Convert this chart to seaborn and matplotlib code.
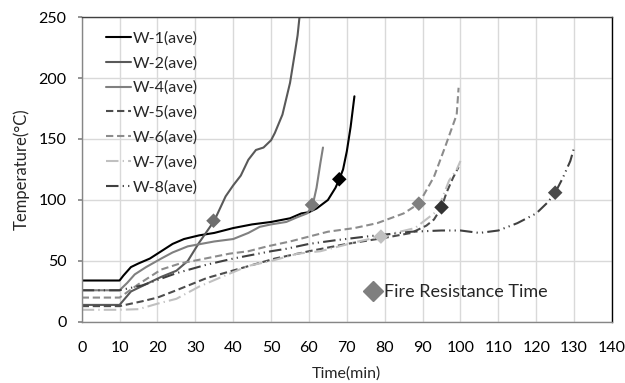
import matplotlib
matplotlib.use("Agg")
import matplotlib.pyplot as plt
from matplotlib.lines import Line2D
import seaborn as sns
import pandas as pd

# ---- data ----
t_w1 = [0, 10, 11, 13, 15, 18, 20, 22, 24, 27, 31, 35, 40, 45, 50, 55, 58, 60, 62, 65, 67, 68, 69, 70, 71, 72]
T_w1 = [34, 34, 38, 45, 48, 52, 56, 60, 64, 68, 71, 73, 77, 80, 82, 85, 89, 90, 93, 100, 110, 117, 125, 140, 160, 185]

t_w2 = [0, 10, 13, 17, 21, 25, 28, 31, 35, 38, 40, 42, 44, 46, 48, 50, 51, 53, 55, 56.3, 57, 57.5, 58]
T_w2 = [14, 14, 25, 31, 37, 42, 50, 65, 83, 103, 112, 120, 133, 141, 143, 149, 155, 170, 196, 221, 235, 250, 265]

t_w4 = [0, 10, 12, 14, 17, 21, 24, 28, 35, 40, 44, 47, 50, 54, 57, 59.5, 61, 62, 63, 63.7]
T_w4 = [26, 26, 32, 39, 45, 52, 57, 62, 66, 68, 73, 78, 80, 82, 86, 89, 96, 110, 130, 143]

t_w5 = [0, 10, 16, 20, 25, 33, 42, 51, 60, 70, 80, 87, 91, 93, 95, 96.3, 98, 99.5]
T_w5 = [13, 13, 17, 20, 26, 36, 44, 52, 58, 64, 69, 73, 79, 84, 94, 106, 118, 127]

t_w6 = [0, 10, 15, 21, 26, 31, 39, 44, 49, 55, 60, 65, 72, 78, 85, 89, 91, 93, 96, 99, 99.5]
T_w6 = [20, 20, 31, 43, 48, 51, 56, 58, 62, 66, 70, 74, 77, 81, 89, 97, 108, 119, 144, 170, 192]

t_w7 = [0, 10, 15, 20, 25, 31, 37, 44, 50, 57, 63, 73, 79, 84, 88, 93, 95, 97, 99, 100]
T_w7 = [10, 10, 10.5, 15, 19, 29, 37, 46, 50, 56, 58, 66, 70, 74, 77, 89, 100, 116, 125, 132]

t_w8 = [0, 10, 16, 25, 33, 40, 50, 54, 60, 67, 75, 87, 95, 100, 105, 110, 115, 120, 123, 125, 127, 129, 130]
T_w8 = [26, 26, 30, 40, 47, 52, 58, 60, 64, 67, 70, 74, 75, 75, 73, 75, 81, 89, 98, 106, 118, 132, 143]

series_names = ["W-1(ave)", "W-2(ave)", "W-4(ave)", "W-5(ave)", "W-6(ave)", "W-7(ave)", "W-8(ave)"]

# fire resistance time points
fr_series = ["W-2(ave)", "W-4(ave)", "W-1(ave)", "W-7(ave)", "W-6(ave)", "W-5(ave)", "W-8(ave)"]
fr_t = [34.8, 60.8, 68, 79, 89, 95, 125]
fr_T = [83, 96, 117, 70, 97, 94, 106]

x_ticks = [0, 10, 20, 30, 40, 50, 60, 70, 80, 90, 100, 110, 120, 130, 140]
y_ticks = [0, 50, 100, 150, 200, 250]

# ---- style ----
sns.set_theme(style="white")
plt.rcParams["font.family"] = ["Lato", "DejaVu Sans"]

colors = {"W-1(ave)": "#000000", "W-2(ave)": "#595959", "W-4(ave)": "#808080",
          "W-5(ave)": "#4d4d4d", "W-6(ave)": "#8c8c8c", "W-7(ave)": "#c0c0c0",
          "W-8(ave)": "#404040"}
styles = {"W-1(ave)": "-", "W-2(ave)": "-", "W-4(ave)": "-",
          "W-5(ave)": (0, (3.5, 1.8)), "W-6(ave)": (0, (3.5, 1.8)),
          "W-7(ave)": (0, (6, 2, 0.6, 2)), "W-8(ave)": (0, (6, 2, 0.6, 2, 0.6, 2))}
marker_colors = {"W-1(ave)": "#000000", "W-2(ave)": "#6e6e6e", "W-4(ave)": "#7a7a7a",
                 "W-5(ave)": "#333333", "W-6(ave)": "#7f7f7f", "W-7(ave)": "#c0c0c0",
                 "W-8(ave)": "#4a4a4a"}

xs = [t_w1, t_w2, t_w4, t_w5, t_w6, t_w7, t_w8]
ys = [T_w1, T_w2, T_w4, T_w5, T_w6, T_w7, T_w8]

fs = 11.5

fig = plt.figure(figsize=(6.25, 3.83), dpi=100)
ax = fig.add_axes([0.1307, 0.1593, 0.8485, 0.7963])

line_handles = []
for name, x, y in zip(series_names, xs, ys):
    df = pd.DataFrame({"t": x, "T": y})
    sns.lineplot(data=df, x="t", y="T", ax=ax, color=colors[name],
                 linestyle=styles[name], linewidth=1.5, errorbar=None,
                 sort=False, estimator=None, legend=False)
    line_handles.append(Line2D([0], [0], color=colors[name], linestyle=styles[name], linewidth=1.5))

df_fr = pd.DataFrame({"t": fr_t, "T": fr_T, "series": fr_series})
sns.scatterplot(data=df_fr, x="t", y="T", hue="series", palette=marker_colors,
                marker="D", s=55, linewidth=0, legend=False, ax=ax, zorder=5)

ax.set_xlim(0, 140)
ax.set_ylim(0, 250)
ax.set_xticks(x_ticks)
ax.set_yticks(y_ticks)
ax.grid(True, color="#d9d9d9", linewidth=1)
ax.set_axisbelow(True)
for s in ["left", "bottom"]:
    ax.spines[s].set_color("#868686")
ax.spines["top"].set_color("#404040")
ax.spines["right"].set_color("#000000")
for s in ax.spines.values():
    s.set_linewidth(1)
ax.tick_params(axis="x", length=0, pad=14, labelsize=fs, colors="#000000")
ax.tick_params(axis="y", length=3, pad=8, labelsize=fs, color="#868686", labelcolor="#000000", left=True)
ax.set_xlabel("Time(min)", fontsize=fs, labelpad=8)
ax.set_ylabel("Temperature(°C)", fontsize=12, labelpad=6)

leg1 = ax.legend(line_handles, series_names, loc="upper left", bbox_to_anchor=(0.033, 0.975),
                 frameon=False, fontsize=fs, handlelength=1.6, handletextpad=0.1,
                 labelspacing=0.66, borderaxespad=0)
ax.add_artist(leg1)
fr_handle = Line2D([0], [0], marker="D", color="none", markerfacecolor="#7f7f7f",
                   markeredgecolor="#7f7f7f", markersize=10.5)
ax.legend([fr_handle], ["Fire Resistance Time"], loc="center left",
          bbox_to_anchor=(0.52, 0.097), frameon=False, fontsize=13,
          handlelength=0.9, handletextpad=0.15, borderaxespad=0)

fig.savefig("out.png", dpi=100)
